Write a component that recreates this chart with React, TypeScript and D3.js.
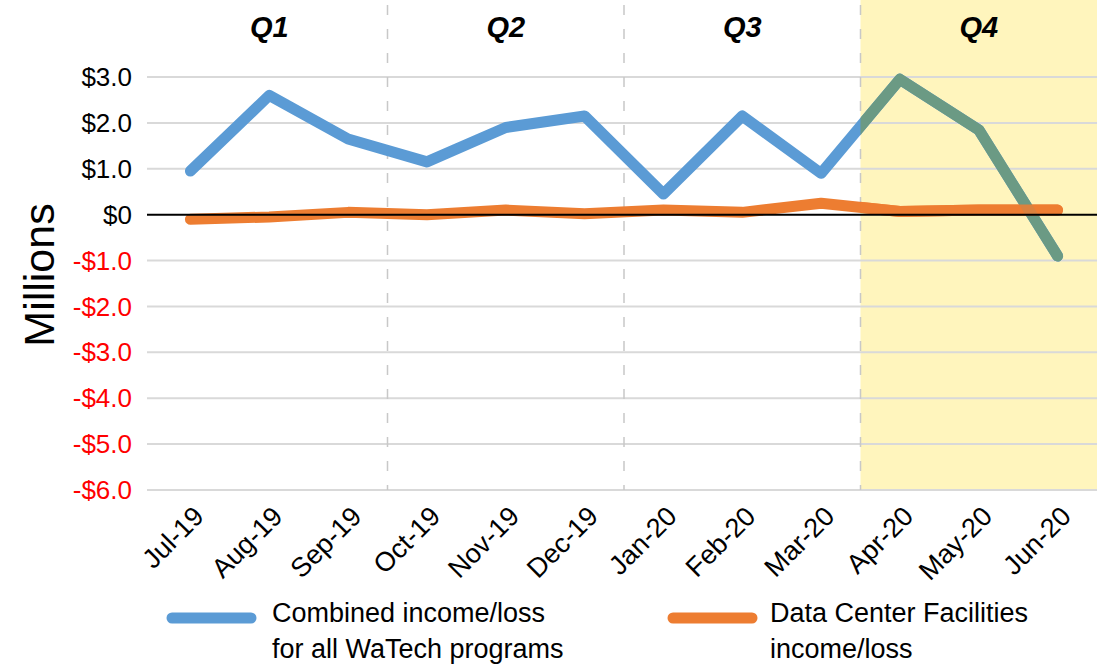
import React from "react";
import * as d3 from "d3";

const months = ["Jul-19","Aug-19","Sep-19","Oct-19","Nov-19","Dec-19","Jan-20","Feb-20","Mar-20","Apr-20","May-20","Jun-20"];
const combined = [0.95, 2.6, 1.65, 1.15, 1.9, 2.15, 0.45, 2.15, 0.9, 2.95, 1.85, -0.9];
const dataCenter = [-0.1, -0.05, 0.05, 0.0, 0.1, 0.02, 0.1, 0.05, 0.25, 0.07, 0.1, 0.1];
const yTicks = [3, 2, 1, 0, -1, -2, -3, -4, -5, -6];
const quarters = ["Q1", "Q2", "Q3", "Q4"];

const W = 1100, H = 666;
const FONT = "'Liberation Sans', Arial, sans-serif";

export default function App() {
  const x = d3.scaleBand().domain(months).range([151, 1097]).padding(0);
  const y = d3.scaleLinear().domain([-6, 3]).range([490, 77]);
  const cx = (m: string) => (x(m) as number) + x.bandwidth() / 2;
  const line = d3.line<number>().x((_, i) => cx(months[i])).y((d) => y(d));
  const qStart = (q: number) => x(months[q * 3]) as number;
  const qEnd = (q: number) => (x(months[q * 3 + 2]) as number) + x.bandwidth();
  const q4x0 = qStart(3), q4x1 = 1097;
  const fmt = (v: number) => (v === 0 ? "$0" : v > 0 ? `$${v.toFixed(1)}` : `-$${Math.abs(v).toFixed(1)}`);

  return (
    <svg width={W} height={H} style={{ position: "absolute", left: 0, top: 0, background: "#fff" }} fontFamily={FONT}>
      <defs>
        <clipPath id="q4clip"><rect x={q4x0} y={0} width={q4x1 - q4x0} height={500} /></clipPath>
      </defs>
      <rect x={q4x0} y={0} width={q4x1 - q4x0} height={y(-6)} fill="#fff5bd" />
      {yTicks.filter((t) => t !== 0).map((t) => (
        <line key={t} x1={147} x2={1097} y1={y(t)} y2={y(t)} stroke="#d9d9d9" strokeWidth={2} />
      ))}
      {[1, 2, 3].map((q) => (
        <line key={q} x1={qStart(q)} x2={qStart(q)} y1={5} y2={y(-6)} stroke="#c8c8c8" strokeWidth={1.5} strokeDasharray="10,14" />
      ))}
      {quarters.map((q, i) => (
        <text key={q} x={(qStart(i) + (i === 3 ? q4x1 : qEnd(i))) / 2} y={37} textAnchor="middle" fontSize={29} fontWeight="bold" fontStyle="italic">{q}</text>
      ))}
      {yTicks.map((t) => (
        <text key={t} x={132} y={y(t)} dy="0.35em" textAnchor="end" fontSize={26} fill={t < 0 ? "#ff0000" : "#000"}>{fmt(t)}</text>
      ))}
      <text transform={`translate(54,${275}) rotate(-90)`} textAnchor="middle" fontSize={43}>Millions</text>
      <path d={line(combined) || ""} fill="none" stroke="#5b9bd5" strokeWidth={11} strokeLinejoin="round" strokeLinecap="round" />
      <path d={line(dataCenter) || ""} fill="none" stroke="#ed7d31" strokeWidth={11} strokeLinejoin="round" strokeLinecap="round" />
      <g clipPath="url(#q4clip)">
        <path d={line(combined) || ""} fill="none" stroke="#6b9a84" strokeWidth={11} strokeLinejoin="round" strokeLinecap="round" />
        <path d={line(dataCenter) || ""} fill="none" stroke="#ed7d31" strokeOpacity={0.85} strokeWidth={11} strokeLinejoin="round" strokeLinecap="round" />
      </g>
      <line x1={147} x2={1097} y1={y(0)} y2={y(0)} stroke="#000" strokeWidth={2} />
      {months.map((m) => (
        <text key={m} transform={`translate(${cx(m) + 15},${518}) rotate(-45)`} textAnchor="end" fontSize={27}>{m}</text>
      ))}
      <line x1={172} x2={251} y1={618} y2={618} stroke="#5b9bd5" strokeWidth={11} strokeLinecap="round" />
      <text x={272} y={622} fontSize={27}>Combined income/loss</text>
      <text x={272} y={658} fontSize={27}>for all WaTech programs</text>
      <line x1={673} x2={752} y1={618} y2={618} stroke="#ed7d31" strokeWidth={11} strokeLinecap="round" />
      <text x={770} y={622} fontSize={27}>Data Center Facilities</text>
      <text x={770} y={658} fontSize={27}>income/loss</text>
    </svg>
  );
}
